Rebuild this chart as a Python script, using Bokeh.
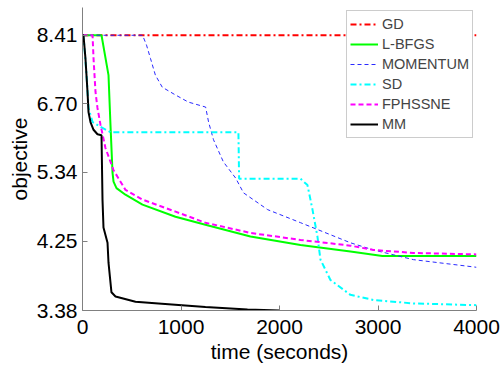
from bokeh.plotting import figure
from bokeh.models import Range1d, FixedTicker, PrintfTickFormatter
from bokeh.embed import file_html
from bokeh.resources import INLINE

# ---- data (time in seconds, objective value) ----
gd_t = [0, 4000]
gd_v = [8.41, 8.41]

lbfgs_t = [0, 193, 264, 284, 305, 315, 345, 436, 609, 944, 1248, 1705, 2213, 2720, 3045, 3360, 4000]
lbfgs_v = [8.41, 8.41, 7.37, 6.25, 5.33, 5.18, 5.07, 4.96, 4.80, 4.61, 4.49, 4.32, 4.20, 4.11, 4.05, 4.05, 4.05]

mom_t = [0, 610, 650, 690, 740, 810, 945, 1075, 1250, 1280, 1330, 1430, 1555, 1635, 1880, 2215, 2720, 2955, 3360, 4000]
mom_v = [8.41, 8.41, 8.14, 7.79, 7.37, 7.08, 6.90, 6.74, 6.63, 6.31, 5.95, 5.53, 5.24, 4.99, 4.72, 4.52, 4.23, 4.13, 4.00, 3.90]

sd_t = [0, 10, 41, 61, 102, 183, 284, 1583, 1590, 2213, 2284, 2335, 2385, 2416, 2517, 2720, 2954, 3360, 4000]
sd_v = [8.41, 8.41, 7.37, 6.61, 6.31, 6.21, 6.10, 6.10, 5.23, 5.23, 5.12, 4.72, 4.32, 4.00, 3.74, 3.56, 3.50, 3.46, 3.44]

fph_t = [0, 102, 112, 132, 152, 183, 233, 315, 436, 609, 944, 1248, 1705, 2213, 2720, 2954, 3360, 4000]
fph_v = [8.41, 8.41, 7.79, 6.97, 6.61, 6.25, 5.79, 5.38, 5.04, 4.88, 4.69, 4.52, 4.37, 4.27, 4.19, 4.13, 4.09, 4.07]

mm_t = [0, 10, 30, 51, 61, 81, 112, 152, 193, 203, 213, 254, 264, 294, 335, 538, 771, 1248, 1675, 2000]
mm_v = [8.41, 8.41, 7.79, 6.97, 6.52, 6.31, 6.15, 6.06, 6.04, 4.88, 4.45, 4.23, 3.96, 3.59, 3.54, 3.48, 3.46, 3.42, 3.39, 3.38]

x_ticks = [0, 1000, 2000, 3000, 4000]
y_ticks = [3.38, 4.25, 5.34, 6.70, 8.41]

FONT = "Liberation Sans"

p = figure(width=500, height=365, y_axis_type="log",
           x_range=Range1d(0, 4000), y_range=Range1d(3.38, 9.22),
           output_backend="svg", toolbar_location=None,
           min_border_left=82, min_border_right=24,
           min_border_top=7, min_border_bottom=54)

p.outline_line_color = None
p.xgrid.visible = False
p.ygrid.visible = False
p.background_fill_color = "white"
p.border_fill_color = "white"

p.line(gd_t, gd_v, color="#ff0000", line_width=2, line_dash="6 3 2 3", legend_label="GD")
p.line(lbfgs_t, lbfgs_v, color="#00ff00", line_width=2, legend_label="L-BFGS")
p.line(mom_t, mom_v, color="#2a2aff", line_width=1, line_dash="4 3", legend_label="MOMENTUM")
p.line(sd_t, sd_v, color="#00ffff", line_width=2, line_dash="6 3 2 3", legend_label="SD")
p.line(fph_t, fph_v, color="#ff00ff", line_width=2, line_dash="5 3", legend_label="FPHSSNE")
p.line(mm_t, mm_v, color="#000000", line_width=2, legend_label="MM")

p.xaxis.ticker = FixedTicker(ticks=x_ticks)
p.yaxis.ticker = FixedTicker(ticks=y_ticks)
p.yaxis.formatter = PrintfTickFormatter(format="%.2f")

for ax in (p.xaxis, p.yaxis):
    ax.axis_line_color = "#808080"
    ax.major_tick_line_color = "#808080"
    ax.major_tick_in = 5
    ax.major_tick_out = 0
    ax.minor_tick_in = 0
    ax.minor_tick_out = 0
    ax.major_label_text_font = FONT
    ax.major_label_text_font_size = "21px"
    ax.major_label_text_color = "black"
    ax.axis_label_text_font = FONT
    ax.axis_label_text_font_size = "21px"
    ax.axis_label_text_font_style = "normal"
    ax.axis_label_text_color = "black"

p.xaxis.axis_label = "time (seconds)"
p.yaxis.axis_label = "objective"
p.xaxis.major_label_standoff = 9
p.xaxis.axis_label_standoff = 3
p.yaxis.major_label_standoff = 5
p.yaxis.axis_label_standoff = 3

lg = p.legend[0]
lg.location = "top_right"
lg.margin = 3
lg.padding = 3
lg.spacing = 0
lg.label_height = 20
lg.glyph_height = 20
lg.glyph_width = 28
lg.label_standoff = 4
lg.label_text_font = FONT
lg.label_text_font_size = "14.5px"
lg.border_line_color = "#999999"
lg.border_line_width = 1
lg.background_fill_color = "white"
lg.background_fill_alpha = 1.0

open("out.html", "w").write(file_html(p, INLINE))
